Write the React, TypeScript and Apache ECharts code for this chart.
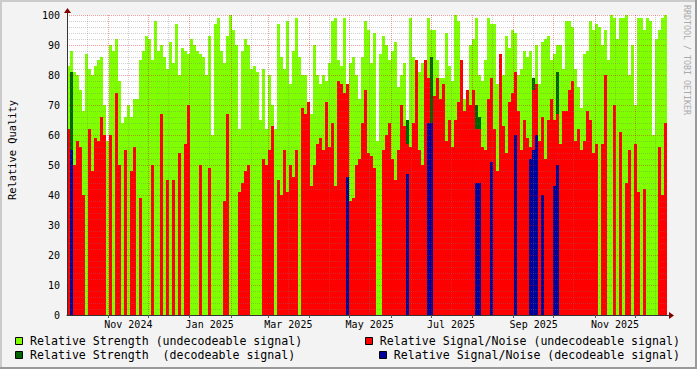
import React, { useEffect, useRef } from "react";
import * as echarts from "echarts";

// ---- time frame (days since 1 Oct 2024; each column is 2.25 days) ----
const START_UTC = Date.UTC(2024, 9, 1);
const DAY_MS = 86400000;
const SPAN_DAYS = 450;

// ---- data: relative strength / relative signal-noise per consolidated column ----
const strengthUndecodeable: (number | null)[] = [
  83, 88, 81, 80, 75, 68, 87, 82, 80, 83,
  85, 86, 70, 58, 90, 88, 92, 78, 64, 66,
  70, 66, 72, 72, 85, 88, 93, 92, 85, 98,
  88, 90, 86, 82, 91, 84, 97, 80, 89, 88,
  87, 92, 90, 88, 87, 86, 80, 93, 60, 97,
  99, 88, 84, 93, 100, 95, 90, 62, 88, 92,
  90, 82, 83, 81, 65, 82, 62, 80, 70, 62,
  97, 86, 82, 98, 77, 88, 99, 86, 80, 80,
  60, 67, 90, 80, 77, 80, 78, 84, 98, 99,
  85, 83, 99, 65, 84, 86, 80, 72, 86, 98,
  95, 84, 94, 58, 87, 93, 90, 85, 88, 91,
  76, 80, 84, 62, 99, 86, 75, 81, 84, 85,
  99, 95, 95, 85, 79, 79, 94, 83, 78, 100,
  98, 85, 72, 68, 90, 92, 99, 80, 78, 85,
  99, 97, 97, 77, 85, 80, 93, 89, 95, 94,
  80, 82, 88, 86, 88, 72, 90, 77, 91, 92,
  93, 85, 87, 90, 90, 82, 98, 98, 96, 82,
  76, 69, 87, 88, 98, 95, 97, 96, 90, 95,
  85, 100, 99, 92, 99, 99, 100, 80, 90, 70,
  99, 99, 95, 99, 98, 60, 92, 95, 99, 100,
];

const snrUndecodeable: (number | null)[] = [
  62, null, 50, 58, 56, 40, null, 62, 48, 59,
  58, 66, 60, null, 60, null, 74, 50, null, 55,
  null, 48, 56, null, 39, null, null, null, 50, null,
  null, 67, null, 45, null, 45, null, 54, null, 57,
  70, null, null, null, 50, null, null, 49, null, null,
  null, null, 38, 67, null, null, null, 41, 44, 48,
  50, null, null, null, null, 52, 50, 55, 63, null,
  45, 40, 55, 41, 50, 46, 55, null, 69, 67,
  71, 43, 50, 57, 59, 55, 71, 56, 64, 43,
  78, 77, 74, 77, 38, 39, 50, 52, 64, 75,
  54, 53, 49, null, null, 55, 60, 64, 52, 45,
  55, 70, 63, 57, 56, 64, 85, 55, 50, 85,
  79, null, 73, 79, 72, 77, 58, 65, 56, 65,
  71, 85, 68, 75, 70, 75, 62, 62, 56, 55,
  72, 79, 62, 48, 87, 63, 54, 71, 74, 81,
  68, 55, 65, 59, 56, 75, 77, 58, 66, 52,
  65, 72, 65, 67, 57, 68, 68, 75, 78, 58,
  62, 55, 58, 68, 65, 54, 57, null, 57, 80,
  null, null, 70, null, 61, null, 44, 55, null, 57,
  41, null, 42, null, null, null, null, 56, 40, 64,
];

// [column, value] for columns that also hold decodeable readings
const strengthDecodeable: [number, number][] = [
  [1, 81], [113, 65], [121, 86], [136, 70], [137, 66], [155, 79], [156, 77], [163, 81],
];
const snrDecodeable: [number, number][] = [
  [1, 55], [93, 46], [113, 47], [120, 64], [121, 64], [136, 44], [137, 44], [141, 51],
  [149, 60], [154, 52], [155, 55], [156, 60], [158, 40], [162, 43], [163, 50],
];

// ---- axis labelling ----
const monthGridMonths: [number, number][] = [
  [2024, 10], [2024, 11], [2025, 0], [2025, 1], [2025, 2], [2025, 3], [2025, 4],
  [2025, 5], [2025, 6], [2025, 7], [2025, 8], [2025, 9], [2025, 10], [2025, 11],
];
const halfMonthMonths: [number, number][] = [
  [2024, 9], [2024, 10], [2024, 11], [2025, 0], [2025, 1], [2025, 2], [2025, 3], [2025, 4],
  [2025, 5], [2025, 6], [2025, 7], [2025, 8], [2025, 9], [2025, 10], [2025, 11],
];
const xLabels: [number, number, string][] = [
  [2024, 10, "Nov 2024"], [2025, 0, "Jan 2025"], [2025, 2, "Mar 2025"], [2025, 4, "May 2025"],
  [2025, 6, "Jul 2025"], [2025, 8, "Sep 2025"], [2025, 10, "Nov 2025"],
];

const dayOf = (y: number, m: number, d: number) => (Date.UTC(y, m, d) - START_UTC) / DAY_MS;

const MONO = "'DejaVu Sans Mono', monospace";

export default function App() {
  const ref = useRef<HTMLDivElement>(null);

  useEffect(() => {
    document.body.style.margin = "0";
    if (!ref.current) return;
    const chart = echarts.init(ref.current, null, { renderer: "svg" });

    const n = strengthUndecodeable.length;
    const cats = strengthUndecodeable.map((_, i) => String(i));
    const sd: (number | null)[] = new Array(n).fill(null);
    strengthDecodeable.forEach(([i, v]) => (sd[i] = v));
    const rd: (number | null)[] = new Array(n).fill(null);
    snrDecodeable.forEach(([i, v]) => (rd[i] = v));

    const majorTicks = monthGridMonths.map(([y, m]) => dayOf(y, m, 1));
    const minorTicks = halfMonthMonths.map(([y, m]) => dayOf(y, m, 1) + 15);
    const labelPos = xLabels.map(([y, m]) => dayOf(y, m, 1) + 15);
    const labelFor = (v: number) => {
      const k = labelPos.findIndex((p) => Math.abs(p - v) < 0.5);
      return k >= 0 ? xLabels[k][2] : "";
    };

    const bar = (name: string, data: (number | null)[], color: string) => ({
      type: "bar",
      name,
      data,
      xAxisIndex: 0,
      yAxisIndex: 0,
      barGap: "-100%",
      barCategoryGap: "0%",
      itemStyle: { color },
      silent: true,
    });

    const legendText = (x: number, y: number, text: string, align: string) => ({
      type: "text",
      x,
      y,
      style: { text, fill: "#000", font: `11.6px ${MONO}`, align, verticalAlign: "middle" },
    });
    const legendBox = (x: number, y: number, color: string) => ({
      type: "rect",
      shape: { x, y, width: 7, height: 7 },
      style: { fill: color, stroke: "#000", lineWidth: 1 },
    });

    chart.setOption({
      animation: false,
      backgroundColor: "#F3F3F3",
      grid: {
        left: 67,
        top: 15,
        width: 600,
        height: 300,
        show: true,
        backgroundColor: "#FFFFFF",
        borderWidth: 0,
        outerBoundsMode: "none",
      },
      xAxis: [
        { type: "category", data: cats, show: false, gridIndex: 0 },
        {
          type: "value",
          gridIndex: 0,
          min: 0,
          max: SPAN_DAYS,
          position: "bottom",
          z: 4,
          axisLine: { show: true, onZero: false, lineStyle: { color: "#333", width: 1 } },
          axisTick: { show: true, customValues: majorTicks, length: 3, lineStyle: { color: "#555" } },
          axisLabel: {
            show: true,
            customValues: labelPos,
            formatter: (v: number) => labelFor(v),
            fontFamily: MONO,
            fontSize: 10,
            color: "#000",
            margin: 4,
          },
          splitLine: { show: true, lineStyle: { color: "rgba(220,0,0,0.38)", type: [1, 1], width: 1 } },
        },
        {
          type: "value",
          gridIndex: 0,
          min: 0,
          max: SPAN_DAYS,
          position: "bottom",
          z: 3,
          axisLine: { show: false },
          axisTick: { show: false, customValues: minorTicks },
          axisLabel: { show: false, customValues: minorTicks },
          splitLine: { show: true, lineStyle: { color: "rgba(120,120,120,0.35)", type: [1, 1], width: 1 } },
        },
      ],
      yAxis: [
        {
          type: "value",
          min: 0,
          max: 100,
          interval: 10,
          z: 4,
          axisLine: { show: true, lineStyle: { color: "#333", width: 1 } },
          axisTick: { show: false },
          axisLabel: { fontFamily: MONO, fontSize: 10, color: "#000", margin: 7 },
          splitLine: { show: true, lineStyle: { color: "rgba(220,0,0,0.38)", type: [1, 1], width: 1 } },
          minorTick: { show: false, splitNumber: 5 },
          minorSplitLine: { show: true, lineStyle: { color: "rgba(120,120,120,0.35)", type: [1, 1], width: 1 } },
        },
      ],
      series: [
        bar("Relative Strength (undecodeable signal)", strengthUndecodeable, "#80FF00"),
        bar("Relative Strength  (decodeable signal)", sd, "#006400"),
        bar("Relative Signal/Noise (undecodeable signal)", snrUndecodeable, "#FF0000"),
        bar("Relative Signal/Noise (decodeable signal)", rd, "#00009A"),
      ],
      graphic: [
        // 3D frame of the canvas
        { type: "rect", shape: { x: 0, y: 0, width: 697, height: 2 }, style: { fill: "#CBCBCB" }, silent: true },
        { type: "rect", shape: { x: 0, y: 0, width: 2, height: 369 }, style: { fill: "#CBCBCB" }, silent: true },
        { type: "rect", shape: { x: 0, y: 367, width: 697, height: 2 }, style: { fill: "#999999" }, silent: true },
        { type: "rect", shape: { x: 695, y: 0, width: 2, height: 369 }, style: { fill: "#999999" }, silent: true },
        // axis extensions and arrows
        { type: "line", shape: { x1: 67.5, y1: 15, x2: 67.5, y2: 12 }, style: { stroke: "#333", lineWidth: 1 }, z: 10 },
        { type: "line", shape: { x1: 667, y1: 315.5, x2: 670, y2: 315.5 }, style: { stroke: "#333", lineWidth: 1 }, z: 10 },
        { type: "polygon", shape: { points: [[64, 13], [71, 13], [67.5, 8]] }, style: { fill: "#800000" }, z: 10 },
        { type: "polygon", shape: { points: [[669, 312], [669, 319], [674, 315.5]] }, style: { fill: "#800000" }, z: 10 },
        // vertical axis title
        {
          type: "text",
          x: 12,
          y: 150,
          rotation: Math.PI / 2,
          style: { text: "Relative Quality", fill: "#000", font: `10.4px ${MONO}`, align: "center", verticalAlign: "middle" },
        },
        // legend
        legendBox(15.5, 337.5, "#80FF00"),
        legendText(30, 341, "Relative Strength (undecodeable signal)", "left"),
        legendBox(15.5, 351.5, "#006400"),
        legendText(30, 355, "Relative Strength  (decodeable signal)", "left"),
        legendBox(365.5, 337.5, "#FF0000"),
        legendText(680, 341, "Relative Signal/Noise (undecodeable signal)", "right"),
        legendBox(379.5, 351.5, "#00009A"),
        legendText(680, 355, "Relative Signal/Noise (decodeable signal)", "right"),
        // watermark
        {
          type: "text",
          x: 687,
          y: 5,
          rotation: -Math.PI / 2,
          style: { text: "RRDTOOL / TOBI OETIKER", fill: "#AAAAAA", font: `8.3px ${MONO}`, align: "left", verticalAlign: "middle" },
        },
      ],
    });

    return () => chart.dispose();
  }, []);

  return <div ref={ref} style={{ width: 697, height: 369 }} />;
}
